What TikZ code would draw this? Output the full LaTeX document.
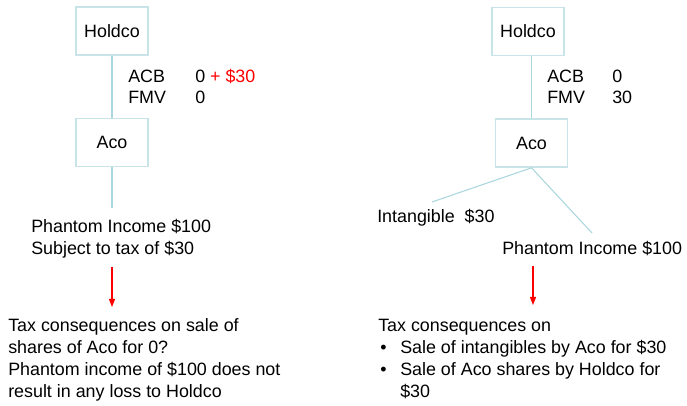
\documentclass[tikz,border=0pt]{standalone}
\usepackage{fontspec}
\setmainfont{Liberation Sans}
\usetikzlibrary{arrows.meta}
\definecolor{boxline}{RGB}{200,228,232}
\definecolor{link}{RGB}{170,214,222}
\newcommand{\bul}{\makebox[16.5pt][l]{\hspace{1.5pt}\textbullet}}
\begin{document}
\begin{tikzpicture}[x=0.75pt,y=-0.75pt,
  every node/.style={font=\fontsize{13.4}{16.3}\selectfont},
  company/.style={draw=boxline,line width=1.2pt,minimum width=54pt,minimum height=36pt,inner sep=0pt},
  txt/.style={anchor=base west,inner sep=0pt},
  block/.style={anchor=north west,inner sep=0pt,align=left},
  link/.style={draw=link,line width=0.8pt},
  redarrow/.style={draw=red,line width=0.8pt,-{Triangle[length=6pt,width=4.5pt]}}]
\useasboundingbox (0,0) rectangle (687,406);

\node[company] (holdL) at (112,31) {Holdco};
\node[company] (acoL) at (112,142.5) {Aco};
\coordinate (endL) at (112,208);
\draw[link] (holdL) -- (acoL);
\draw[link] (acoL) -- (endL);
\node[txt] (acbL) at (128,83) {ACB};
\node[txt] (acbLv) at (195,83) {0 \textcolor{red}{+ \$30}};
\node[txt] (fmvL) at (128,104) {FMV};
\node[txt] (fmvLv) at (195,104) {0};
\node[block] (phantomL) at (31,216.8) {\strut Phantom Income \$100\\Subject to tax of \$30};
\coordinate (arrLa) at (112,267);
\coordinate (arrLb) at (112,307);
\draw[redarrow] (arrLa) -- (arrLb);
\node[block] (taxL) at (8,316.5) {\strut Tax consequences on sale of\\shares of Aco for 0?\\Phantom income of \$100 does not\\result in any loss to Holdco};

\node[company] (holdR) at (528,31.5) {Holdco};
\node[company] (acoR) at (531.5,143) {Aco};
\draw[link] (acoR.north) -- (acoR.north |- holdR.south);
\node[txt] (acbR) at (547,83) {ACB};
\node[txt] (acbRv) at (612,83) {0};
\node[txt] (fmvR) at (547,104) {FMV};
\node[txt] (fmvRv) at (612,104) {30};
\coordinate (intg) at (432,202);
\coordinate (phR) at (592,233);
\draw[link] (acoR.south) -- (intg);
\draw[link] (acoR.south) -- (phR);
\node[txt] (intgR) at (377,223) {Intangible\ \ \$30};
\node[txt] (phantomR) at (502,255) {Phantom Income \$100};
\coordinate (arrRa) at (533,266);
\coordinate (arrRb) at (533,305);
\draw[redarrow] (arrRa) -- (arrRb);
\node[block] (taxR) at (378,316.5) {\strut Tax consequences on\\\bul Sale of intangibles by Aco for \$30\\\bul Sale of Aco shares by Holdco for\\\hspace*{16.5pt}\$30};
\end{tikzpicture}
\end{document}
